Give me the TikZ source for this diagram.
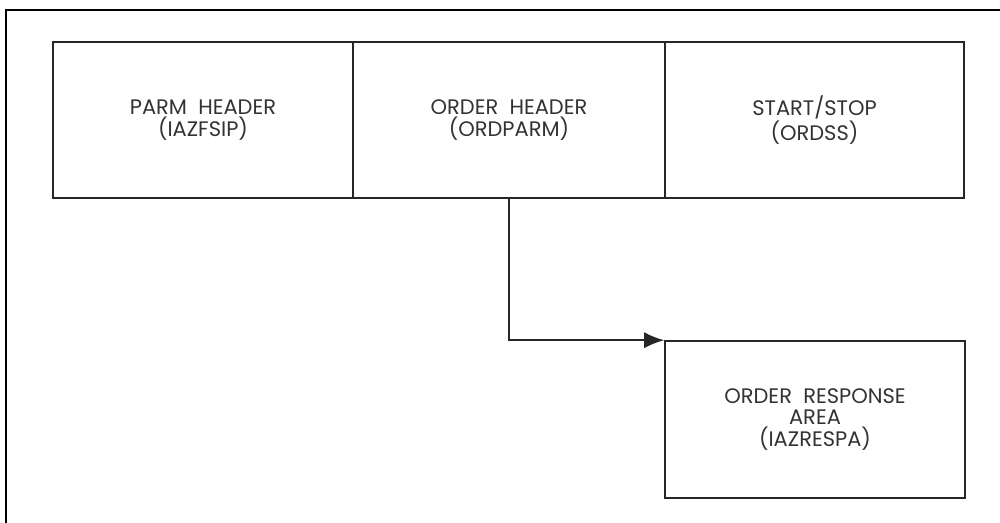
\documentclass[tikz,border=0pt]{standalone}
\usepackage{fontspec}
\setmainfont{Poppins}
\usetikzlibrary{arrows.meta}

\begin{document}
\begin{tikzpicture}[x=0.5pt, y=-0.5pt,
    block/.style={draw=black!85, line width=0.8pt, rectangle, align=center,
        minimum height=78pt, inner sep=0pt, text=black!80,
        font=\fontsize{10.5}{10.8}\selectfont},
    link/.style={draw=black!85, line width=0.8pt, -{Latex[length=10pt, width=8pt]}}]
    \useasboundingbox (0,0) rectangle (1000,523);
    \clip (0,0) rectangle (1000,523);

    % outer frame
    \draw[line width=1pt] (6,10) rectangle (1020,540);

    % top row
    \node[block, minimum width=150pt] (parm) at (203,120) {PARM\ \ HEADER\\(IAZFSIP)};
    \node[block, minimum width=156pt] (order) at (509,120) {ORDER\ \ HEADER\\(ORDPARM)};
    \node[block, minimum width=149.5pt] (stst) at (814.5,120) {START/STOP\\(ORDSS)};

    % response area
    \node[block, minimum width=150pt, minimum height=78.5pt] (resp) at (815,419.5)
        {ORDER\ \ RESPONSE\\AREA\\(IAZRESPA)};

    % arrow
    \draw[link] (order.south) |- (resp.north west);
\end{tikzpicture}
\end{document}
